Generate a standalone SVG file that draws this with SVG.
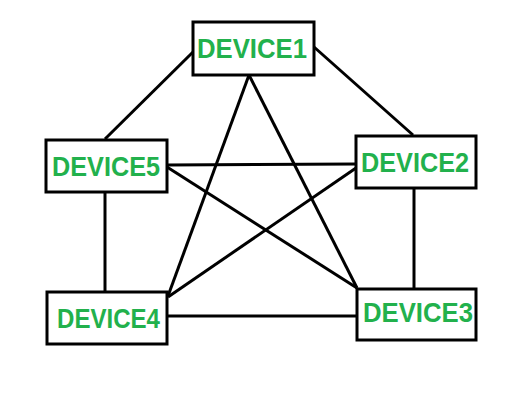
<svg xmlns="http://www.w3.org/2000/svg" width="528" height="401" viewBox="0 0 528 401">
<style>
.box{fill:#fff;stroke:#000;stroke-width:3}
.lbl{font-family:"Liberation Sans",Arial,sans-serif;font-weight:bold;font-size:28px;fill:#22B14C}
.ln{stroke:#000;stroke-width:3;fill:none}
</style>
<rect width="528" height="401" fill="#fff"/>
<g id="connectors">
<line class="ln" x1="193" y1="52" x2="105" y2="139"/>
<line class="ln" x1="314" y1="47" x2="413" y2="135"/>
<line class="ln" x1="249" y1="75" x2="168" y2="296"/>
<line class="ln" x1="249" y1="75" x2="357" y2="288"/>
<line class="ln" x1="167" y1="165" x2="356" y2="164"/>
<line class="ln" x1="167" y1="167" x2="357" y2="288"/>
<line class="ln" x1="356" y1="168" x2="168" y2="297"/>
<line class="ln" x1="105" y1="192" x2="105" y2="292"/>
<line class="ln" x1="414" y1="188" x2="414" y2="289"/>
<line class="ln" x1="167" y1="316" x2="357" y2="316"/>
</g>
<g id="device1"><rect class="box" x="193" y="22" width="121" height="53"/><text class="lbl" x="197" y="58" textLength="110" lengthAdjust="spacingAndGlyphs">DEVICE1</text></g>
<g id="device5"><rect class="box" x="46" y="140" width="121" height="52"/><text class="lbl" x="52" y="176" textLength="108" lengthAdjust="spacingAndGlyphs">DEVICE5</text></g>
<g id="device2"><rect class="box" x="356" y="136" width="120" height="52"/><text class="lbl" x="361" y="172" textLength="108" lengthAdjust="spacingAndGlyphs">DEVICE2</text></g>
<g id="device4"><rect class="box" x="47" y="292" width="120" height="52"/><text class="lbl" x="57" y="328" textLength="103" lengthAdjust="spacingAndGlyphs">DEVICE4</text></g>
<g id="device3"><rect class="box" x="357" y="289" width="119" height="51"/><text class="lbl" x="363" y="322" textLength="110" lengthAdjust="spacingAndGlyphs">DEVICE3</text></g>
</svg>
